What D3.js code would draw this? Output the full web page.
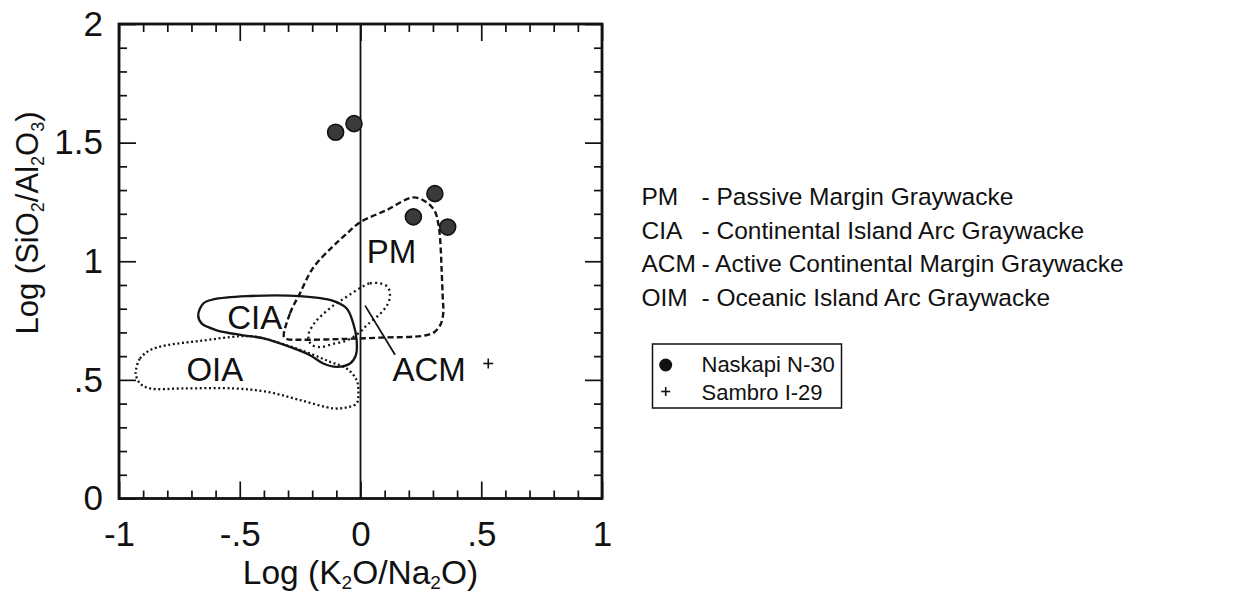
<!DOCTYPE html>
<html>
<head>
<meta charset="utf-8">
<script src="https://cdn.jsdelivr.net/npm/d3@7"></script>
<style>
  html, body { margin: 0; padding: 0; background: #fff; }
  svg { display: block; }
  text { font-family: "Liberation Sans", Arial, Helvetica, sans-serif; fill: #111; }
</style>
</head>
<body>
<svg id="chart" width="1260" height="593"></svg>
<script>
// Axis ticks and labels
const xMajorTicks = [-1, -0.5, 0, 0.5, 1];
const xTickLabels = ["-1", "-.5", "0", ".5", "1"];
const yMajorTicks = [0, 0.5, 1, 1.5, 2];
const yTickLabels = ["0", ".5", "1", "1.5", "2"];

// Samples: log(K2O/Na2O), log(SiO2/Al2O3)
const naskapiX = [-0.103, -0.027, 0.308, 0.219, 0.361];
const naskapiY = [1.544, 1.580, 1.285, 1.187, 1.144];
const sambroX = [0.529];
const sambroY = [0.569];

// Tectonic-setting field boundaries
const pmField = [
  [-0.317, 0.680], [-0.292, 0.780], [-0.251, 0.864], [-0.197, 0.971], [-0.114, 1.063],
  [-0.064, 1.110], [-0.002, 1.164], [0.109, 1.216], [0.217, 1.269], [0.272, 1.250],
  [0.308, 1.210], [0.323, 1.153], [0.330, 1.090], [0.336, 0.962], [0.341, 0.836],
  [0.343, 0.785], [0.333, 0.737], [0.308, 0.703], [0.266, 0.687], [0.081, 0.678],
  [-0.085, 0.672], [-0.251, 0.669], [-0.304, 0.672]
];
const ciaField = [
  [-0.672, 0.773], [-0.651, 0.822], [-0.610, 0.839], [-0.471, 0.853], [-0.251, 0.853],
  [-0.113, 0.833], [-0.057, 0.801], [-0.030, 0.738], [-0.016, 0.667], [-0.019, 0.604],
  [-0.043, 0.569], [-0.099, 0.555], [-0.154, 0.569], [-0.209, 0.604], [-0.292, 0.639],
  [-0.402, 0.675], [-0.485, 0.688], [-0.595, 0.709], [-0.658, 0.738]
];
const oiaField = [
  [-0.930, 0.541], [-0.913, 0.590], [-0.872, 0.625], [-0.802, 0.646], [-0.665, 0.664],
  [-0.499, 0.684], [-0.430, 0.681], [-0.306, 0.646], [-0.209, 0.611], [-0.126, 0.576],
  [-0.057, 0.548], [-0.016, 0.499], [-0.009, 0.457], [-0.016, 0.401], [-0.057, 0.384],
  [-0.113, 0.380], [-0.251, 0.415], [-0.388, 0.450], [-0.527, 0.464], [-0.734, 0.464],
  [-0.872, 0.464], [-0.913, 0.485], [-0.930, 0.520]
];
const acmField = [
  [0.005, 0.891], [0.039, 0.907], [0.081, 0.907], [0.113, 0.891], [0.122, 0.856],
  [0.113, 0.820], [0.081, 0.778], [0.032, 0.736], [-0.002, 0.701], [-0.057, 0.666],
  [-0.113, 0.652], [-0.168, 0.638], [-0.205, 0.651], [-0.216, 0.688], [-0.188, 0.743],
  [-0.154, 0.778], [-0.113, 0.813], [-0.071, 0.841], [-0.030, 0.869]
];
const acmLeader = [[0.019, 0.813], [0.143, 0.606]];

// Field labels
const fieldNames = ["PM", "CIA", "OIA", "ACM"];
const fieldLabelX = [0.128, -0.438, -0.603, 0.284];
const fieldLabelY = [0.992, 0.714, 0.495, 0.495];

// Key text
const keyAbbr = ["PM", "CIA", "ACM", "OIM"];
const keyText = [
  "- Passive Margin Graywacke",
  "- Continental Island Arc Graywacke",
  "- Active Continental Margin Graywacke",
  "- Oceanic Island Arc Graywacke"
];
const seriesNames = ["Naskapi N-30", "Sambro I-29"];

const svg = d3.select("#chart");

const plot = { left: 119, right: 602, top: 24, bottom: 498.5 };
const x = d3.scaleLinear().domain([-1, 1]).range([plot.left, plot.right]);
const y = d3.scaleLinear().domain([0, 2]).range([plot.bottom, plot.top]);

const minorX = d3.range(-10, 11).map(d => d / 10).filter(d => Math.abs(d * 2 - Math.round(d * 2)) > 1e-6);
const minorY = d3.range(0, 21).map(d => d / 10).filter(d => Math.abs(d * 2 - Math.round(d * 2)) > 1e-6);

function styleTicks(g) {
  g.select(".domain").remove();
  g.selectAll(".tick line").attr("stroke", "#111").attr("stroke-width", 1.7);
}

// Inward ticks on all four sides
const minorLen = 8, majorLen = 17;
svg.append("g").attr("transform", `translate(0,${plot.bottom})`)
  .call(d3.axisBottom(x).tickValues(minorX).tickSize(-minorLen).tickFormat("")).call(styleTicks);
svg.append("g").attr("transform", `translate(0,${plot.top})`)
  .call(d3.axisTop(x).tickValues(minorX).tickSize(-minorLen).tickFormat("")).call(styleTicks);
svg.append("g").attr("transform", `translate(${plot.left},0)`)
  .call(d3.axisLeft(y).tickValues(minorY).tickSize(-minorLen).tickFormat("")).call(styleTicks);
svg.append("g").attr("transform", `translate(${plot.right},0)`)
  .call(d3.axisRight(y).tickValues(minorY).tickSize(-minorLen).tickFormat("")).call(styleTicks);

svg.append("g").attr("transform", `translate(0,${plot.top})`)
  .call(d3.axisTop(x).tickValues(xMajorTicks).tickSize(-majorLen).tickFormat("")).call(styleTicks);
svg.append("g").attr("transform", `translate(${plot.right},0)`)
  .call(d3.axisRight(y).tickValues(yMajorTicks).tickSize(-majorLen).tickFormat("")).call(styleTicks);

const xAxis = svg.append("g").attr("transform", `translate(0,${plot.bottom})`)
  .call(d3.axisBottom(x).tickValues(xMajorTicks).tickSize(-majorLen).tickPadding(23)
    .tickFormat((d, i) => xTickLabels[i]))
  .call(styleTicks);
xAxis.selectAll("text").attr("font-size", 35).attr("font-family", null).attr("fill", "#111");

const yAxis = svg.append("g").attr("transform", `translate(${plot.left},0)`)
  .call(d3.axisLeft(y).tickValues(yMajorTicks).tickSize(-majorLen).tickPadding(16)
    .tickFormat((d, i) => yTickLabels[i]))
  .call(styleTicks);
yAxis.selectAll("text").attr("font-size", 35).attr("font-family", null).attr("fill", "#111");

// Zero line
svg.append("line")
  .attr("x1", x(0)).attr("x2", x(0))
  .attr("y1", plot.top).attr("y2", plot.bottom)
  .attr("stroke", "#111").attr("stroke-width", 1.8);

// Fields
const outline = d3.line().x(d => x(d[0])).y(d => y(d[1])).curve(d3.curveCatmullRomClosed.alpha(0.5));
const fields = [
  { pts: oiaField, dash: "2,2.6", width: 2.3 },
  { pts: acmField, dash: "2,3.2", width: 2.3 },
  { pts: pmField, dash: "6,3.2", width: 2.4 },
  { pts: ciaField, dash: null, width: 2.3 }
];
svg.append("g").selectAll("path").data(fields).join("path")
  .attr("d", d => outline(d.pts))
  .attr("fill", "none")
  .attr("stroke", "#151515")
  .attr("stroke-width", d => d.width)
  .attr("stroke-dasharray", d => d.dash);

svg.append("line")
  .attr("x1", x(acmLeader[0][0])).attr("y1", y(acmLeader[0][1]))
  .attr("x2", x(acmLeader[1][0])).attr("y2", y(acmLeader[1][1]))
  .attr("stroke", "#151515").attr("stroke-width", 1.8);

svg.append("g").selectAll("text").data(fieldNames).join("text")
  .attr("x", (d, i) => x(fieldLabelX[i]))
  .attr("y", (d, i) => y(fieldLabelY[i]))
  .attr("text-anchor", "middle")
  .attr("font-size", 33)
  .text(d => d);

// Frame
svg.append("rect")
  .attr("x", plot.left).attr("y", plot.top)
  .attr("width", plot.right - plot.left).attr("height", plot.bottom - plot.top)
  .attr("fill", "none").attr("stroke", "#111").attr("stroke-width", 2.8);

// Samples
svg.append("g").selectAll("circle").data(naskapiX).join("circle")
  .attr("cx", d => x(d))
  .attr("cy", (d, i) => y(naskapiY[i]))
  .attr("r", 8)
  .attr("fill", "#3a3a3a")
  .attr("stroke", "#111")
  .attr("stroke-width", 1.6);

const plus = (g, cx, cy, s) => {
  g.append("line").attr("x1", cx - s).attr("x2", cx + s).attr("y1", cy).attr("y2", cy)
    .attr("stroke", "#111").attr("stroke-width", 1.6);
  g.append("line").attr("x1", cx).attr("x2", cx).attr("y1", cy - s).attr("y2", cy + s)
    .attr("stroke", "#111").attr("stroke-width", 1.6);
};
const sambroG = svg.append("g");
sambroX.forEach((d, i) => plus(sambroG, x(d), y(sambroY[i]), 5));

// Axis titles
const xTitle = svg.append("text")
  .attr("x", 360.5).attr("y", 584)
  .attr("text-anchor", "middle").attr("font-size", 33.5);
xTitle.append("tspan").text("Log (K");
xTitle.append("tspan").attr("font-size", 19).attr("dy", 5).text("2");
xTitle.append("tspan").attr("dy", -5).text("O/Na");
xTitle.append("tspan").attr("font-size", 19).attr("dy", 5).text("2");
xTitle.append("tspan").attr("dy", -5).text("O)");

const yTitle = svg.append("text")
  .attr("transform", "translate(38,223) rotate(-90)")
  .attr("text-anchor", "middle").attr("font-size", 31);
yTitle.append("tspan").text("Log (SiO");
yTitle.append("tspan").attr("font-size", 18).attr("dy", 6).text("2");
yTitle.append("tspan").attr("dy", -6).text("/Al");
yTitle.append("tspan").attr("font-size", 18).attr("dy", 6).text("2");
yTitle.append("tspan").attr("dy", -6).text("O");
yTitle.append("tspan").attr("font-size", 18).attr("dy", 6).text("3");
yTitle.append("tspan").attr("dy", -6).text(")");

// Field key
const keyRowY = [205, 238.7, 272.4, 306];
const key = svg.append("g");
key.selectAll("text.abbr").data(keyAbbr).join("text").attr("class", "abbr")
  .attr("x", 641.5).attr("y", (d, i) => keyRowY[i]).attr("font-size", 24.5).text(d => d);
key.selectAll("text.desc").data(keyText).join("text").attr("class", "desc")
  .attr("x", 701.5).attr("y", (d, i) => keyRowY[i]).attr("font-size", 24.5).text(d => d);

// Sample legend
const leg = svg.append("g");
leg.append("rect").attr("x", 652.5).attr("y", 344).attr("width", 189).attr("height", 64)
  .attr("fill", "none").attr("stroke", "#111").attr("stroke-width", 1.5);
leg.append("circle").attr("cx", 665.7).attr("cy", 365).attr("r", 6.5).attr("fill", "#111");
plus(leg, 665.7, 391.5, 4.5);
leg.selectAll("text").data(seriesNames).join("text")
  .attr("x", 701.5).attr("y", (d, i) => [371.7, 400][i])
  .attr("font-size", 22).text(d => d);
</script>
</body>
</html>
